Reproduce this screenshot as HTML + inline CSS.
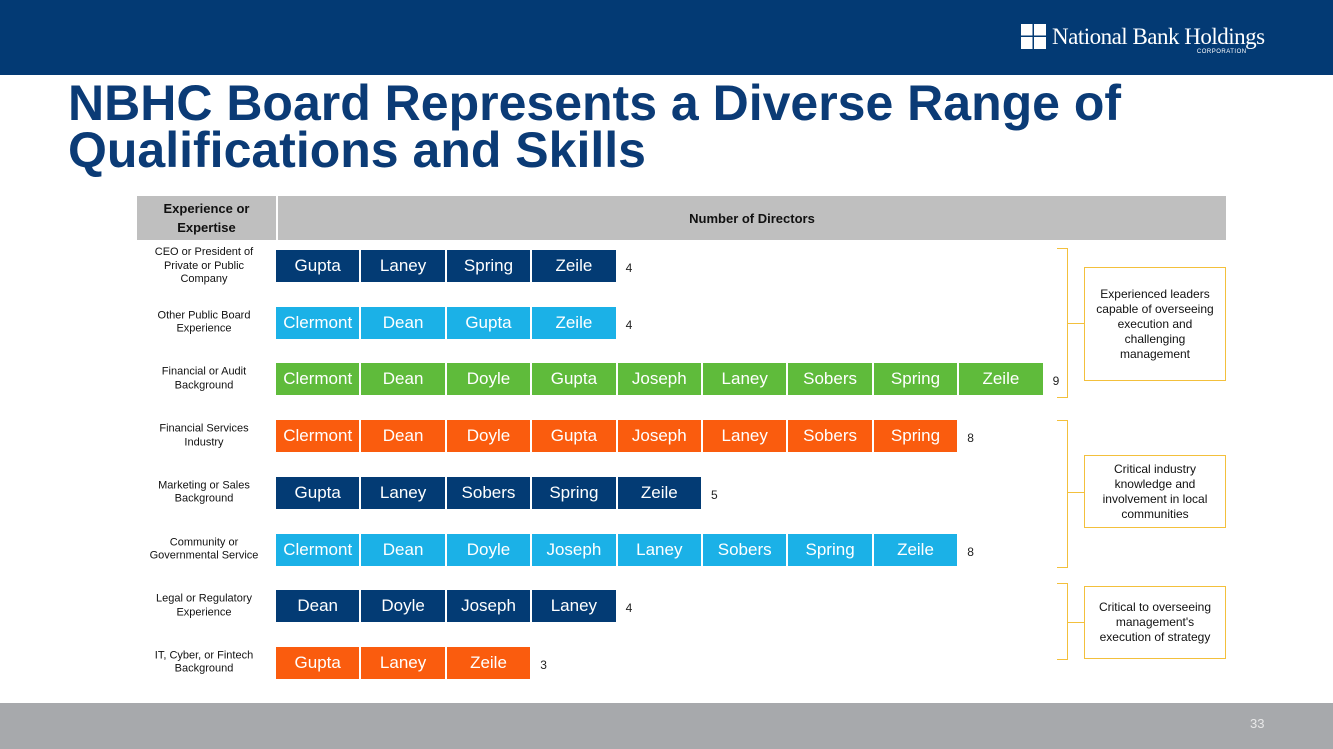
<!DOCTYPE html>
<html><head><meta charset="utf-8"><style>
body{margin:0;width:1333px;height:749px;position:relative;overflow:hidden;background:#fff;font-family:"Liberation Sans",sans-serif}
.abs{position:absolute}
.cell{position:absolute;height:32px;color:#fff;font-size:17px;display:flex;align-items:center;justify-content:center;box-sizing:border-box}
.lab{position:absolute;left:137px;width:134px;text-align:center;font-size:11px;line-height:13.5px;color:#111;transform:translateY(-50%)}
.cnt{position:absolute;font-size:12px;color:#222;transform:translateY(-50%)}
.box{position:absolute;left:1084px;width:142px;border:1.5px solid #f3c03c;box-sizing:border-box;display:flex;align-items:center;justify-content:center;text-align:center;font-size:12px;line-height:15px;color:#111;padding:0 6px}
.br{position:absolute;left:1057px;width:11px;border:1.5px solid #f3c03c;border-left:none;box-sizing:border-box}
</style></head><body>
<div class="abs" style="left:0;top:0;width:1333px;height:75px;background:#033a74"></div>
<div class="abs" style="left:1021px;top:24px;height:30px;display:flex;align-items:flex-start;color:#fff">
<svg width="25" height="25"><rect x="0" y="0" width="11.5" height="11.5" fill="#fff"/><rect x="13" y="0" width="12" height="11.5" fill="#fff"/><rect x="0" y="13" width="11.5" height="12" fill="#fff"/><rect x="13" y="13" width="12" height="12" fill="#fff"/></svg>
<div style="margin-left:6px;position:relative"><div style="font-family:'Liberation Serif',serif;font-size:23px;line-height:26px;letter-spacing:-0.5px">National Bank Holdings</div><div style="position:absolute;right:18px;top:25px;font-size:6px;letter-spacing:0.5px">CORPORATION</div></div></div>
<div class="abs" style="left:68px;top:80px;font-size:50px;font-weight:bold;line-height:47px;color:#0b3b76;white-space:nowrap">NBHC Board Represents a Diverse Range of<br>Qualifications and Skills</div>
<div class="abs" style="left:137px;top:196px;width:139px;height:44px;background:#bfbfbf;display:flex;align-items:center;justify-content:center;text-align:center;font-size:13px;font-weight:bold;line-height:19px;color:#111">Experience or<br>Expertise</div>
<div class="abs" style="left:278px;top:196px;width:948px;height:44px;background:#bfbfbf;display:flex;align-items:center;justify-content:center;font-size:13px;font-weight:bold;color:#111">Number of Directors</div>
<div id="chart"></div>
<div class="br" style="top:248px;height:150px"></div>
<div class="br" style="top:420px;height:148px"></div>
<div class="br" style="top:583px;height:77px"></div>
<div class="abs" style="left:1068px;top:323px;width:16px;border-top:1.5px solid #f3c03c"></div>
<div class="abs" style="left:1068px;top:492px;width:16px;border-top:1.5px solid #f3c03c"></div>
<div class="abs" style="left:1068px;top:622px;width:16px;border-top:1.5px solid #f3c03c"></div>
<div class="box" style="top:267px;height:114px">Experienced leaders capable of overseeing execution and challenging management</div>
<div class="box" style="top:455px;height:73px">Critical industry knowledge and involvement in local communities</div>
<div class="box" style="top:586px;height:73px">Critical to overseeing management's execution of strategy</div>
<div class="abs" style="left:0;top:703px;width:1333px;height:46px;background:#a7a9ac"></div>
<div class="abs" style="left:1250px;top:716px;font-size:13px;color:#e8e8e8">33</div>
<script>
const categories=["CEO or President of<br>Private or Public<br>Company","Other Public Board<br>Experience","Financial or Audit<br>Background","Financial Services<br>Industry","Marketing or Sales<br>Background","Community or<br>Governmental Service","Legal or Regulatory<br>Experience","IT, Cyber, or Fintech<br>Background"];
const directors=[["Gupta","Laney","Spring","Zeile"],["Clermont","Dean","Gupta","Zeile"],["Clermont","Dean","Doyle","Gupta","Joseph","Laney","Sobers","Spring","Zeile"],["Clermont","Dean","Doyle","Gupta","Joseph","Laney","Sobers","Spring"],["Gupta","Laney","Sobers","Spring","Zeile"],["Clermont","Dean","Doyle","Joseph","Laney","Sobers","Spring","Zeile"],["Dean","Doyle","Joseph","Laney"],["Gupta","Laney","Zeile"]];
const counts=[4,4,9,8,5,8,4,3];
const colors=["#033b74","#1bb1e7","#5fbb3b","#fa5c0e","#033b74","#1bb1e7","#033b74","#fa5c0e"];
const x0=276,pitch=85.4,yTop=266,yStep=56.7;
const xs=i=>x0+i*pitch, ys=r=>yTop+r*yStep;
const root=document.getElementById('chart');
categories.forEach((c,r)=>{
 const l=document.createElement('div');l.className='lab';l.innerHTML=c;l.style.top=ys(r)+'px';
 
 
 root.appendChild(l);
 directors[r].forEach((d,i)=>{
  const e=document.createElement('div');e.className='cell';e.textContent=d;
  e.style.left=xs(i)+'px';e.style.width=(pitch-2)+'px';e.style.top=(ys(r)-16)+'px';e.style.background=colors[r];
  
  
  root.appendChild(e);
 });
 const n=document.createElement('div');n.className='cnt';n.textContent=counts[r];
 n.style.left=(xs(counts[r])+8)+'px';n.style.top=(ys(r)+2)+'px';
 
 
 root.appendChild(n);
});
</script>
</body></html>
